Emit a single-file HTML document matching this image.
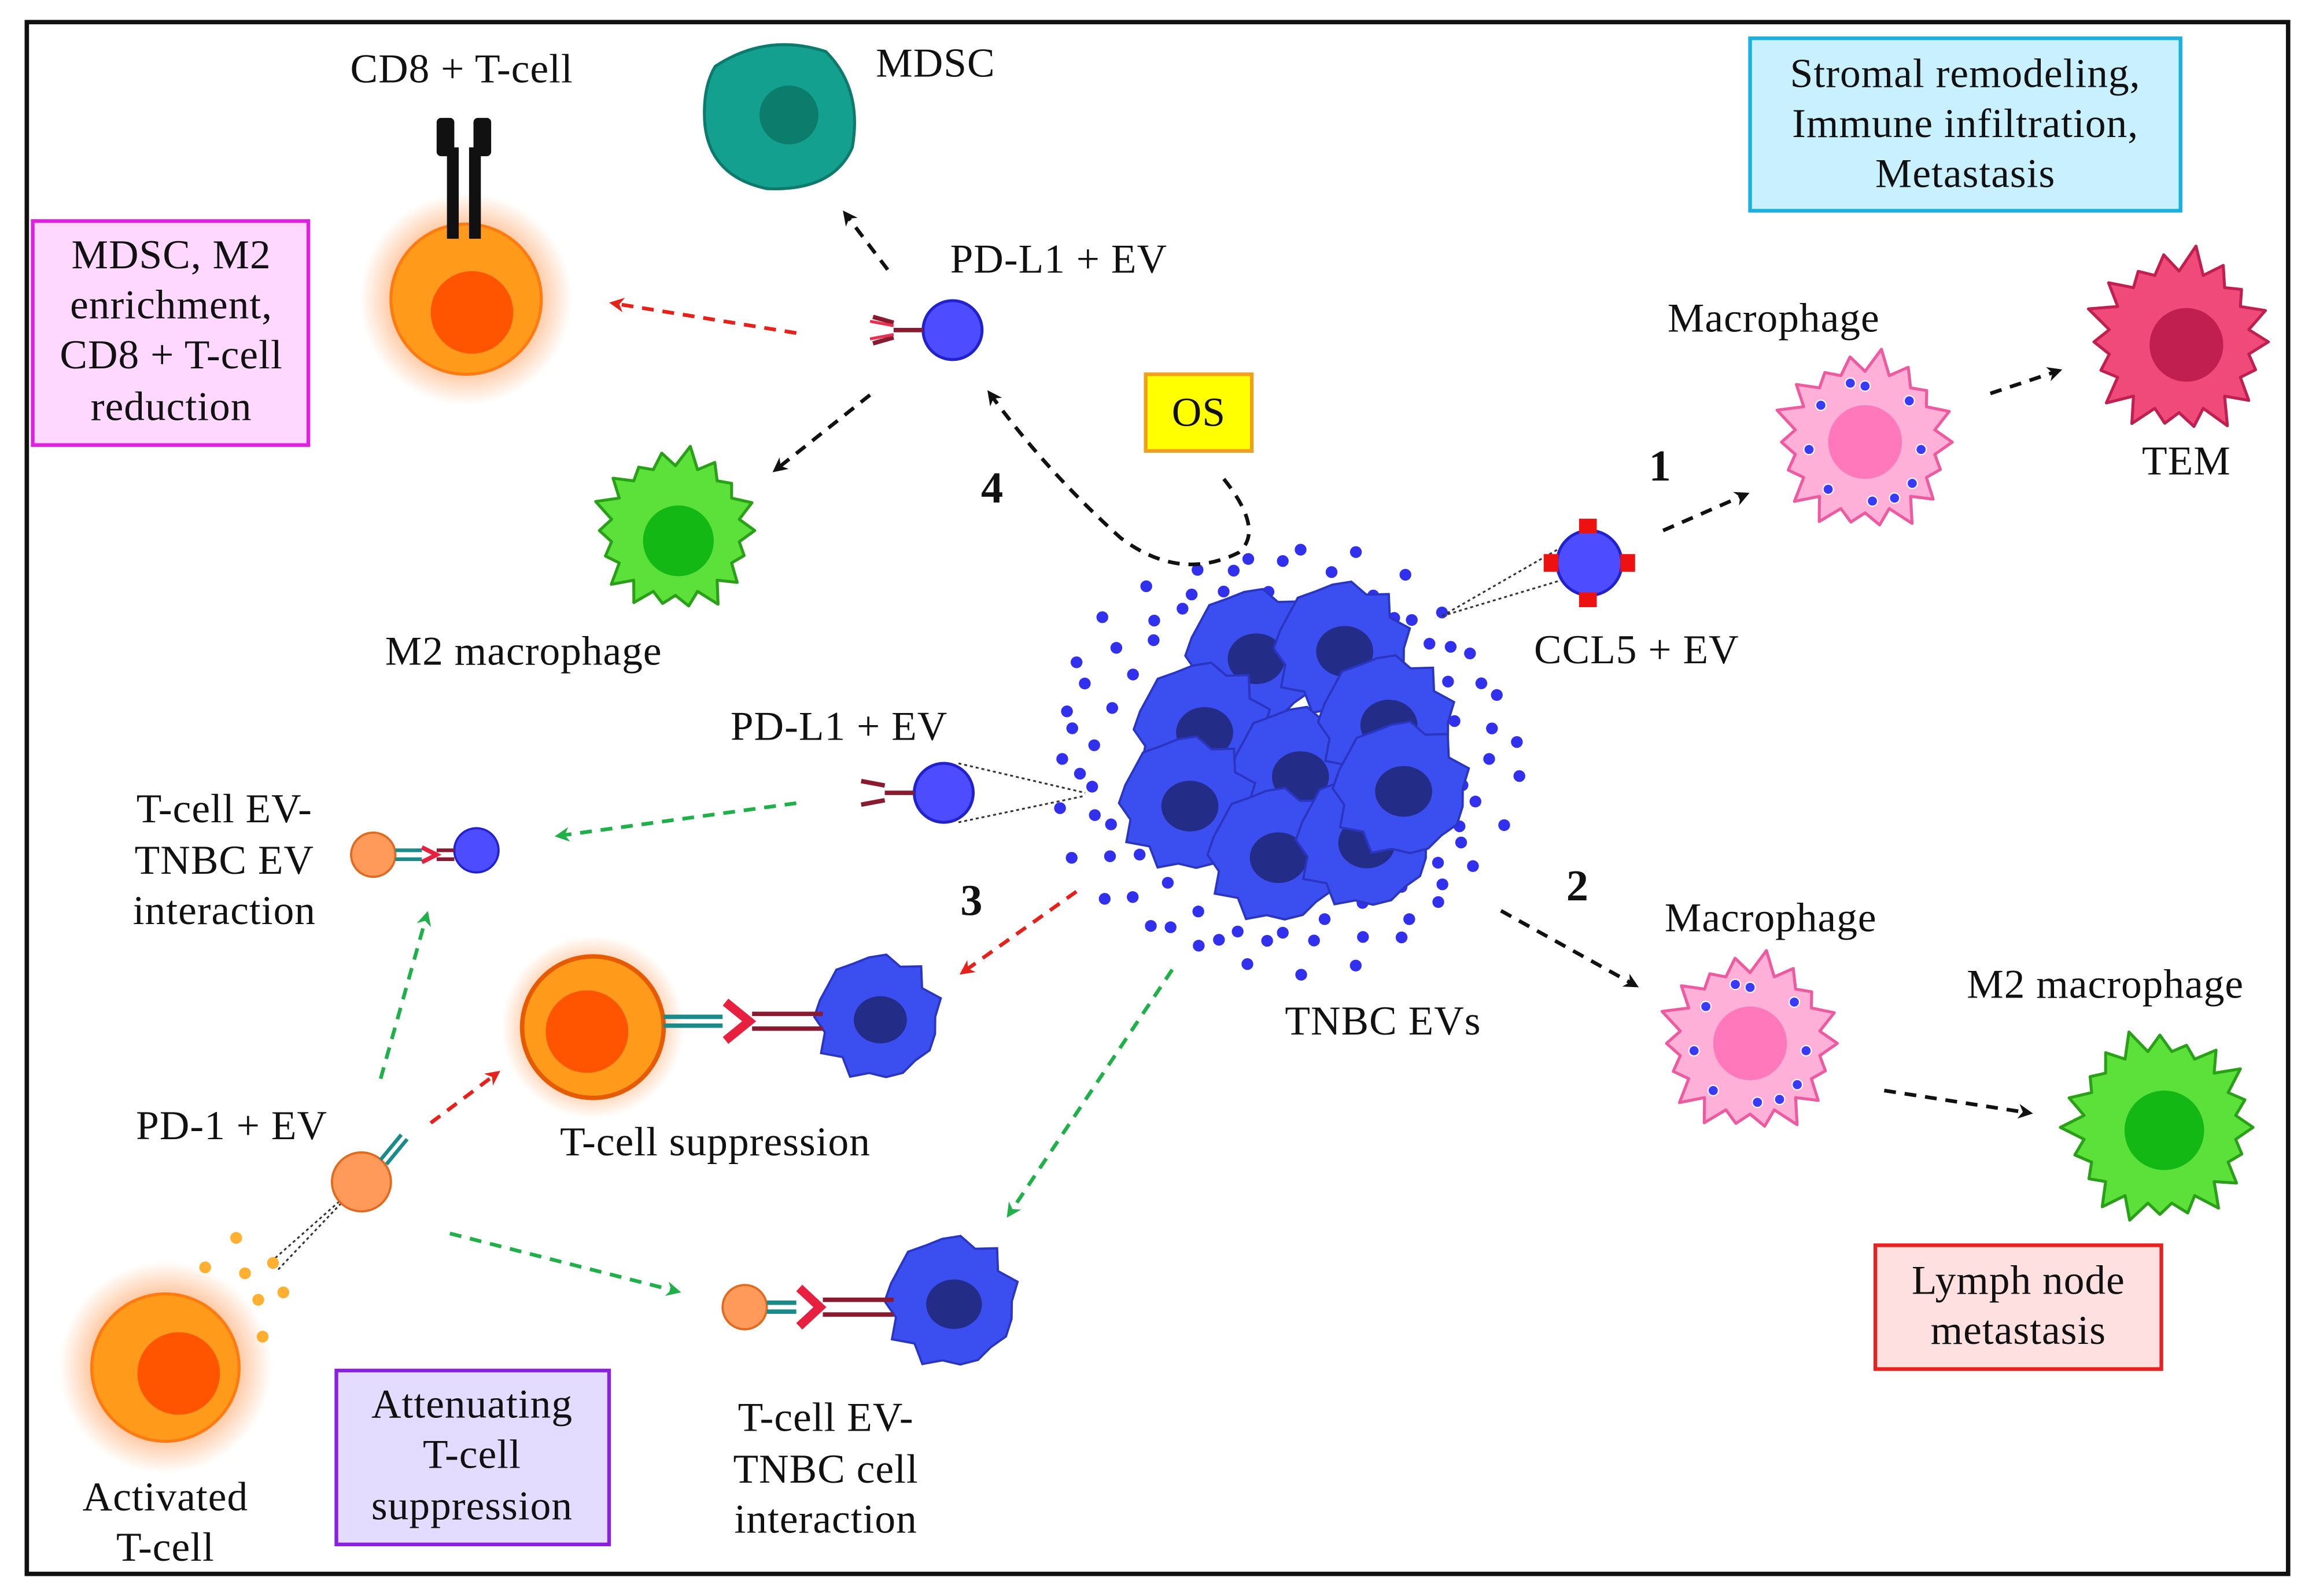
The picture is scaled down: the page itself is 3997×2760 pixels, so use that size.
<!DOCTYPE html>
<html><head><meta charset="utf-8">
<style>
html,body{margin:0;padding:0;background:#fff;}
svg{display:block;}
text{font-family:"Liberation Serif",serif;font-size:28px;letter-spacing:0.4px;fill:#111;}
.b{font-weight:bold;font-size:30px;}
</style></head>
<body>
<svg id="s" width="3997" height="2760" viewBox="0 0 1568 1083" xmlns="http://www.w3.org/2000/svg">
<defs>
<radialGradient id="glow"><stop offset="0.55" stop-color="#ff7a20" stop-opacity="0.6"/><stop offset="1" stop-color="#ff7a20" stop-opacity="0"/></radialGradient>
<marker id="ak" markerWidth="10" markerHeight="10" refX="6" refY="5" orient="auto" markerUnits="userSpaceOnUse"><path d="M0,0 L10,5 L0,10 L3,5Z" fill="#111"/></marker>
<marker id="ar" markerWidth="10" markerHeight="10" refX="6" refY="5" orient="auto" markerUnits="userSpaceOnUse"><path d="M0,0 L10,5 L0,10 L3,5Z" fill="#e8201a"/></marker>
<marker id="ag" markerWidth="10" markerHeight="10" refX="6" refY="5" orient="auto" markerUnits="userSpaceOnUse"><path d="M0,0 L10,5 L0,10 L3,5Z" fill="#1fb04a"/></marker>
</defs>
<rect x="18" y="15" width="1534" height="1053" fill="#fff" stroke="#111" stroke-width="3"/>

<g id="dyn"></g>

<rect x="22" y="150" width="187" height="152" fill="#ffd8ff" stroke="#e020e0" stroke-width="2.5"/>
<g text-anchor="middle"><text x="116" y="182">MDSC, M2</text><text x="116" y="216">enrichment,</text><text x="116" y="250">CD8 + T-cell</text><text x="116" y="285">reduction</text></g>
<rect x="1187" y="26" width="292" height="117" fill="#c8f0ff" stroke="#1ab0e0" stroke-width="2.5"/>
<g text-anchor="middle"><text x="1333" y="59">Stromal remodeling,</text><text x="1333" y="93">Immune infiltration,</text><text x="1333" y="127">Metastasis</text></g>
<rect x="777" y="254" width="72" height="52" fill="#ffff00" stroke="#f0a020" stroke-width="2.5"/>
<text x="813" y="289" text-anchor="middle" style="font-size:28px">OS</text>
<rect x="1272" y="845" width="194" height="84" fill="#ffe0e0" stroke="#e82020" stroke-width="2.5"/>
<g text-anchor="middle"><text x="1369" y="878">Lymph node</text><text x="1369" y="912">metastasis</text></g>
<rect x="228" y="930" width="185" height="118" fill="#e4dcff" stroke="#8a20e0" stroke-width="2.5"/>
<g text-anchor="middle"><text x="320" y="962">Attenuating</text><text x="320" y="996">T-cell</text><text x="320" y="1031">suppression</text></g>

<circle cx="316" cy="203" r="72" fill="url(#glow)"/>
<circle cx="316" cy="203" r="51" fill="#ff9a1a" stroke="#ff7a10" stroke-width="2"/>
<circle cx="320" cy="212" r="28" fill="#ff5500"/>
<rect x="303" y="100" width="8" height="62" fill="#111"/><rect x="318" y="100" width="8" height="62" fill="#111"/>
<rect x="296" y="80" width="12" height="26" rx="3" fill="#111"/><rect x="321" y="80" width="12" height="26" rx="3" fill="#111"/>
<text x="313" y="56" text-anchor="middle">CD8 + T-cell</text>

<path d="M485,45 Q520,22 560,35 Q585,60 578,100 Q565,130 520,128 Q482,120 478,85 Q476,60 485,45Z" fill="#14a08f" stroke="#0c7a6c" stroke-width="2"/>
<circle cx="535" cy="78" r="20" fill="#0c7d6d"/>
<text x="594" y="52">MDSC</text>

<text x="718" y="185" text-anchor="middle">PD-L1 + EV</text>
<circle cx="646" cy="224" r="20" fill="#4d4dff" stroke="#2222cc" stroke-width="2"/>
<path d="M626,224 L606,224 M606,219 L592,215 M606,229 L592,233" stroke="#8a1a30" stroke-width="3" fill="none"/>
<path d="M606,221 L590,218 M606,227 L590,230" stroke="#e83050" stroke-width="2" fill="none"/>

<text x="355" y="451" text-anchor="middle">M2 macrophage</text>
<text x="673" y="341" class="b" text-anchor="middle">4</text>
<text x="1203" y="225" text-anchor="middle">Macrophage</text>
<text x="1483" y="322" text-anchor="middle">TEM</text>
<text x="1126" y="326" class="b" text-anchor="middle">1</text>
<text x="1110" y="450" text-anchor="middle">CCL5 + EV</text>
<text x="938" y="702" text-anchor="middle">TNBC EVs</text>
<text x="1070" y="611" class="b" text-anchor="middle">2</text>
<text x="1201" y="632" text-anchor="middle">Macrophage</text>
<text x="1428" y="677" text-anchor="middle">M2 macrophage</text>
<text x="569" y="502" text-anchor="middle">PD-L1 + EV</text>
<g text-anchor="middle"><text x="152" y="558">T-cell EV-</text><text x="152" y="593">TNBC EV</text><text x="152" y="627">interaction</text></g>
<text x="659" y="621" class="b" text-anchor="middle">3</text>
<text x="485" y="784" text-anchor="middle">T-cell suppression</text>
<text x="157" y="773" text-anchor="middle">PD-1 + EV</text>
<g text-anchor="middle"><text x="560" y="971">T-cell EV-</text><text x="560" y="1006">TNBC cell</text><text x="560" y="1040">interaction</text></g>
<g text-anchor="middle"><text x="112" y="1025">Activated</text><text x="112" y="1059">T-cell</text></g>

<path d="M978,418 L1058,372 M978,418 L1058,394" stroke="#333" stroke-width="1.2" stroke-dasharray="2,2"/>
<circle cx="1078" cy="382" r="22" fill="#4d4dff" stroke="#2222cc" stroke-width="2"/>
<g fill="#ee1111"><rect x="1071" y="352" width="12" height="10"/><rect x="1071" y="402" width="12" height="10"/><rect x="1047" y="376" width="10" height="12"/><rect x="1099" y="376" width="10" height="12"/></g>

<path d="M650,518 L736,538 M650,558 L736,540" stroke="#333" stroke-width="1.2" stroke-dasharray="2,2"/>
<circle cx="640" cy="538" r="20" fill="#4d4dff" stroke="#2222cc" stroke-width="2"/>
<path d="M620,538 L600,538 M600,533 L584,530 M600,543 L584,546" stroke="#8a1a30" stroke-width="3" fill="none"/>

<circle cx="253" cy="580" r="15" fill="#ff9a5a" stroke="#e06a20" stroke-width="1.5"/>
<circle cx="323" cy="577" r="15" fill="#4d4dff" stroke="#2222cc" stroke-width="1.5"/>
<path d="M268,577 L286,577 M268,583 L286,583" stroke="#1a8a8a" stroke-width="2.5"/>
<path d="M286,575 L296,580 L286,585" stroke="#e82040" stroke-width="3" fill="none"/>
<path d="M296,577 L308,577 M296,583 L308,583" stroke="#8a1a30" stroke-width="2.5"/>

<circle cx="402" cy="697" r="62" fill="url(#glow)"/>
<circle cx="402" cy="697" r="48" fill="#ff9a1a" stroke="#e65a00" stroke-width="3"/>
<circle cx="398" cy="700" r="28" fill="#ff5500"/>
<path d="M450,690 L490,690 M450,696 L490,696" stroke="#1a8a8a" stroke-width="3"/>
<path d="M492,680 L508,693 L492,706" stroke="#e82040" stroke-width="6" fill="none"/>
<path d="M510,688 L558,688 M510,698 L558,698" stroke="#8a1a30" stroke-width="3"/>

<path d="M245,802 L185,855 M245,802 L188,862" stroke="#333" stroke-width="1.2" stroke-dasharray="2,2"/>
<circle cx="245" cy="802" r="20" fill="#ff9a5a" stroke="#e06a20" stroke-width="1.5"/>
<path d="M258,787 L272,770 M262,790 L276,773" stroke="#1a8a8a" stroke-width="2.5"/>
<g fill="#ffb030"><circle cx="160" cy="840" r="4"/><circle cx="139" cy="860" r="4"/><circle cx="166" cy="864" r="4"/><circle cx="185" cy="857" r="4"/><circle cx="175" cy="882" r="4"/><circle cx="192" cy="877" r="4"/><circle cx="178" cy="907" r="4"/></g>

<circle cx="112" cy="928" r="72" fill="url(#glow)"/>
<circle cx="112" cy="928" r="50" fill="#ff9a1a" stroke="#ff7a10" stroke-width="2"/>
<circle cx="121" cy="932" r="28" fill="#ff5500"/>

<circle cx="505" cy="887" r="15" fill="#ff9a5a" stroke="#e06a20" stroke-width="1.5"/>
<path d="M520,884 L540,884 M520,890 L540,890" stroke="#1a8a8a" stroke-width="3"/>
<path d="M542,874 L556,887 L542,900" stroke="#e82040" stroke-width="6" fill="none"/>
<path d="M558,882 L606,882 M558,892 L606,892" stroke="#8a1a30" stroke-width="3"/>

<g fill="none" stroke-width="2.5" stroke-dasharray="8,6">
<path d="M602,183 L574,146" stroke="#111" marker-end="url(#ak)"/>
<path d="M590,268 L527,318" stroke="#111" marker-end="url(#ak)"/>
<path d="M540,226 L417,206" stroke="#e8201a" marker-end="url(#ar)"/>
<path d="M830,325 Q858,360 840,375 Q800,395 760,365 Q710,320 672,268" stroke="#111" marker-end="url(#ak)"/>
<path d="M1128,360 L1183,336" stroke="#111" marker-end="url(#ak)"/>
<path d="M1350,267 L1395,252" stroke="#111" marker-end="url(#ak)"/>
<path d="M1018,618 L1108,668" stroke="#111" marker-end="url(#ak)"/>
<path d="M1278,740 L1375,755" stroke="#111" marker-end="url(#ak)"/>
<path d="M540,545 L380,567" stroke="#1fb04a" marker-end="url(#ag)"/>
<path d="M730,605 L654,659" stroke="#e8201a" marker-end="url(#ar)"/>
<path d="M258,732 L289,622" stroke="#1fb04a" marker-end="url(#ag)"/>
<path d="M292,762 L336,729" stroke="#e8201a" marker-end="url(#ar)"/>
<path d="M305,837 L458,876" stroke="#1fb04a" marker-end="url(#ag)"/>
<path d="M795,658 L685,823" stroke="#1fb04a" marker-end="url(#ag)"/>
</g>
</svg>
<script>
(function(){
var NS="http://www.w3.org/2000/svg",g=document.getElementById("dyn");
function el(t,a){var e=document.createElementNS(NS,t);for(var k in a)e.setAttribute(k,a[k]);g.appendChild(e);return e;}
function spiky(cx,cy,r,n,sp,fill,stroke){var p=[];for(var i=0;i<n*2;i++){var a=i*Math.PI/n;var rr=i%2?r:r+sp*(0.7+0.3*Math.sin(i*2.3));p.push((cx+rr*Math.cos(a)).toFixed(1)+","+(cy+rr*Math.sin(a)).toFixed(1));}el("polygon",{points:p.join(" "),fill:fill,stroke:stroke,"stroke-width":2,"stroke-linejoin":"round"});}
function blob(cx,cy,r,n,fill,stroke){var p=[];for(var i=0;i<n;i++){var a=i*2*Math.PI/n;var rr=r*(1+0.08*Math.sin(i*3.7)+(i%2?0.06:-0.02));p.push((cx+rr*Math.cos(a)).toFixed(1)+","+(cy+rr*Math.sin(a)).toFixed(1));}el("polygon",{points:p.join(" "),fill:fill,stroke:stroke,"stroke-width":1.5});}
spiky(458,360,44,18,14,"#5ce03a","#2aa018");el("circle",{cx:460,cy:367,r:24,fill:"#14b814"});
spiky(1465,765,52,20,16,"#5ce03a","#2aa018");el("circle",{cx:1468,cy:767,r:27,fill:"#14b814"});
function pinkM(cx,cy){spiky(cx,cy,48,18,16,"#ffb0d8","#ee5aa0");el("circle",{cx:cx,cy:cy,r:25,fill:"#ff78bc"});
[[-30,-25],[0,-38],[30,-28],[-38,5],[38,5],[-25,32],[5,40],[32,28],[-10,-40],[20,38]].forEach(function(d){el("circle",{cx:cx+d[0],cy:cy+d[1],r:3.5,fill:"#3a3aff",stroke:"#fff","stroke-width":0.8});});}
pinkM(1265,300);pinkM(1187,708);
spiky(1478,232,48,18,18,"#f04a7a","#c02050");el("circle",{cx:1483,cy:234,r:25,fill:"#c01f50"});
function tnbc(cx,cy,r){blob(cx,cy,r,22,"#3b4ff0","#2a35c0");el("ellipse",{cx:cx+2,cy:cy+2,rx:r*0.45,ry:r*0.4,fill:"#232d88"});}
tnbc(595,690,40);tnbc(645,883,42);
for(var i=0;i<80;i++){var a=i*2*Math.PI/80;var rr=(i%3==0?140:i%3==1?155:125)+6*Math.sin(i*1.7);var x=870+rr*1.0*Math.cos(a),y=515+rr*0.92*Math.sin(a);el("circle",{cx:x.toFixed(1),cy:y.toFixed(1),r:4,fill:"#3030ee"});}
[[850,445],[910,440],[815,495],[880,525],[940,490],[805,545],[865,580],[925,570],[950,535]].forEach(function(c){tnbc(c[0],c[1],43);});
})();
</script>
</body></html>
